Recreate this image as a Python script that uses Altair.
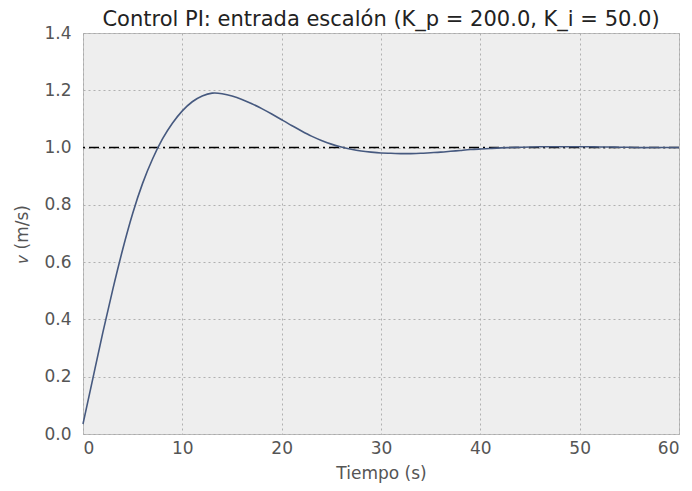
import altair as alt
import pandas as pd

t_vals = list(range(0, 61))
v_vals = [0.035, 0.195, 0.355, 0.505, 0.645, 0.77, 0.875, 0.96, 1.03, 1.085,
          1.128, 1.16, 1.18, 1.19, 1.188, 1.18, 1.168, 1.153, 1.136, 1.117,
          1.097, 1.077, 1.058, 1.04, 1.025, 1.012, 1.002, 0.994, 0.988, 0.984,
          0.981, 0.980, 0.979, 0.979, 0.980, 0.982, 0.984, 0.987, 0.990, 0.993,
          0.995, 0.997, 0.999, 1.000, 1.001, 1.002, 1.003, 1.003, 1.003, 1.003,
          1.003, 1.003, 1.002, 1.002, 1.001, 1.001, 1.000, 1.000, 1.000, 1.000,
          1.000]
ref_level = [1.0]

df = pd.DataFrame({"t": t_vals, "v": v_vals})
ref = pd.DataFrame({"r": ref_level})

FONT = "DejaVu Sans"

x_scale = alt.Scale(domain=[0, 60], nice=False)
y_scale = alt.Scale(domain=[0, 1.4], nice=False)

line = alt.Chart(df).mark_line(color="#46597f", strokeWidth=1.6, interpolate="natural").encode(
    x=alt.X("t:Q", scale=x_scale, title="Tiempo (s)",
            axis=alt.Axis(values=[0, 10, 20, 30, 40, 50, 60], format="d")),
    y=alt.Y("v:Q", scale=y_scale, title="𝑣 (m/s)",
            axis=alt.Axis(values=[0, 0.2, 0.4, 0.6, 0.8, 1.0, 1.2, 1.4], format=".1f")),
)

rule = alt.Chart(ref).mark_rule(color="black", strokeWidth=1.5, strokeDash=[10, 4, 2, 4]).encode(
    y=alt.Y("r:Q", scale=y_scale)
)

chart = alt.layer(rule, line).properties(
    width=596,
    height=401,
    title=alt.Title("Control PI: entrada escalón (K_p = 200.0, K_i = 50.0)",
                    font=FONT, fontSize=21, fontWeight="normal", color="#222222",
                    offset=-6),
    autosize=alt.AutoSizeParams(type="none"),
    padding={"left": 75, "top": 25, "right": 5, "bottom": 55},
).configure_view(
    fill="#eeeeee", stroke="#bdbdbd", strokeWidth=1
).configure_axis(
    grid=True, gridColor="#a8a8a8", gridDash=[2, 3], gridWidth=0.9,
    domain=False, ticks=False,
    labelFont=FONT, labelFontSize=17, labelColor="#555555",
    titleFont=FONT, titleFontSize=17, titleFontWeight="normal", titleColor="#555555",
).configure_axisY(
    labelPadding=12, titlePadding=12
).configure_axisX(
    labelPadding=6, titlePadding=9
)

chart.save("out.html", embed_options={"renderer": "svg", "actions": False})
